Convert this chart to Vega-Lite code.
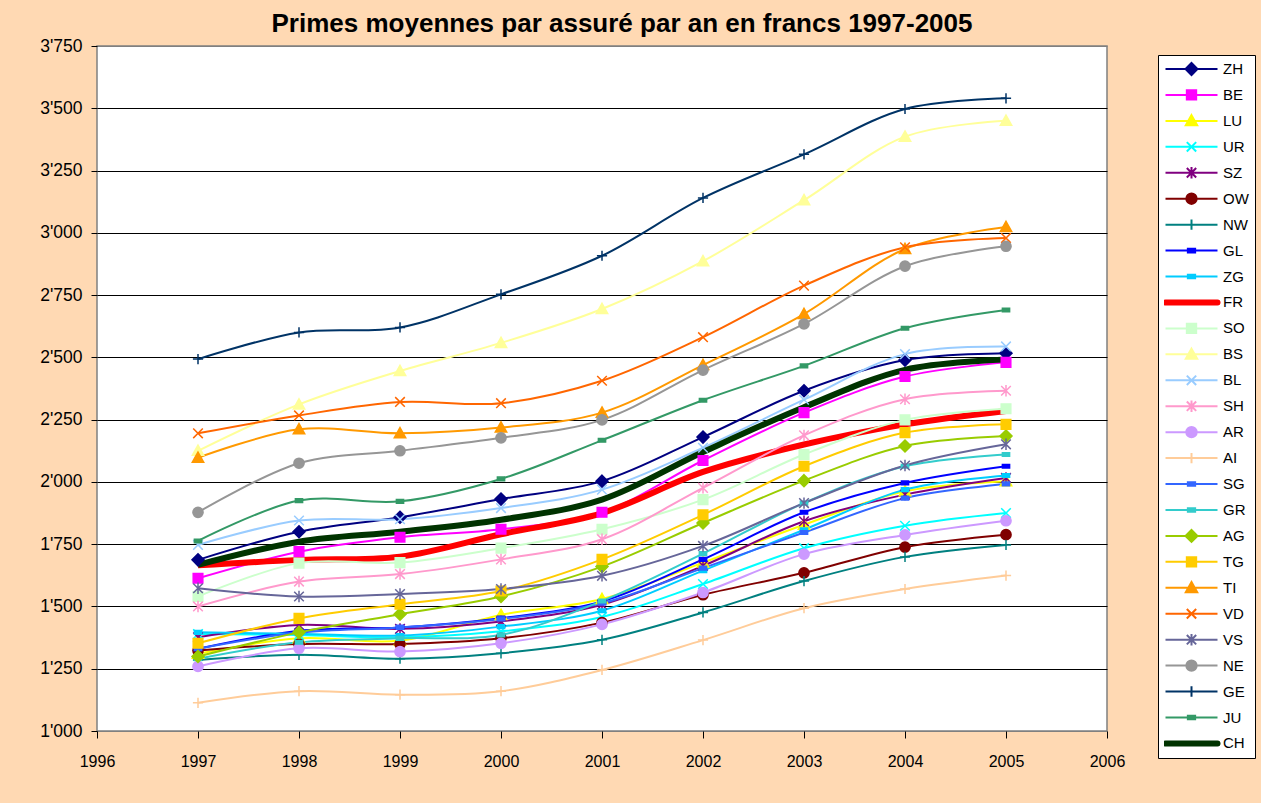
{
  "$schema": "https://vega.github.io/schema/vega-lite/v6.json",
  "autosize": {"type": "none"},
  "width": 1010,
  "height": 685,
  "padding": {"left": 97, "top": 46, "right": 154, "bottom": 72},
  "background": "#FFD9B3",
  "title": {"text": "Primes moyennes par assuré par an en francs 1997-2005", "fontSize": 26, "fontWeight": "bold", "color": "black", "font": "Liberation Sans", "anchor": "middle", "dx": 20, "offset": 0},
  "config": {
    "font": "Liberation Sans",
    "view": {"stroke": "#808080", "strokeWidth": 1.5, "fill": "white"}
  },
  "data": {"values": [
    {"canton":"ZH","year":1997,"prime":1687},{"canton":"ZH","year":1998,"prime":1800},{"canton":"ZH","year":1999,"prime":1858},{"canton":"ZH","year":2000,"prime":1931},{"canton":"ZH","year":2001,"prime":2003},{"canton":"ZH","year":2002,"prime":2180},{"canton":"ZH","year":2003,"prime":2366},{"canton":"ZH","year":2004,"prime":2489},{"canton":"ZH","year":2005,"prime":2517},
    {"canton":"BE","year":1997,"prime":1613},{"canton":"BE","year":1998,"prime":1720},{"canton":"BE","year":1999,"prime":1778},{"canton":"BE","year":2000,"prime":1810},{"canton":"BE","year":2001,"prime":1878},{"canton":"BE","year":2002,"prime":2086},{"canton":"BE","year":2003,"prime":2278},{"canton":"BE","year":2004,"prime":2423},{"canton":"BE","year":2005,"prime":2480},
    {"canton":"LU","year":1997,"prime":1310},{"canton":"LU","year":1998,"prime":1372},{"canton":"LU","year":1999,"prime":1363},{"canton":"LU","year":2000,"prime":1466},{"canton":"LU","year":2001,"prime":1530},{"canton":"LU","year":2002,"prime":1676},{"canton":"LU","year":2003,"prime":1828},{"canton":"LU","year":2004,"prime":1962},{"canton":"LU","year":2005,"prime":2003},
    {"canton":"UR","year":1997,"prime":1389},{"canton":"UR","year":1998,"prime":1385},{"canton":"UR","year":1999,"prime":1376},{"canton":"UR","year":2000,"prime":1400},{"canton":"UR","year":2001,"prime":1458},{"canton":"UR","year":2002,"prime":1590},{"canton":"UR","year":2003,"prime":1734},{"canton":"UR","year":2004,"prime":1824},{"canton":"UR","year":2005,"prime":1875},
    {"canton":"SZ","year":1997,"prime":1376},{"canton":"SZ","year":1998,"prime":1426},{"canton":"SZ","year":1999,"prime":1410},{"canton":"SZ","year":2000,"prime":1440},{"canton":"SZ","year":2001,"prime":1507},{"canton":"SZ","year":2002,"prime":1663},{"canton":"SZ","year":2003,"prime":1842},{"canton":"SZ","year":2004,"prime":1949},{"canton":"SZ","year":2005,"prime":2016},
    {"canton":"OW","year":1997,"prime":1323},{"canton":"OW","year":1998,"prime":1349},{"canton":"OW","year":1999,"prime":1349},{"canton":"OW","year":2000,"prime":1372},{"canton":"OW","year":2001,"prime":1435},{"canton":"OW","year":2002,"prime":1547},{"canton":"OW","year":2003,"prime":1635},{"canton":"OW","year":2004,"prime":1738},{"canton":"OW","year":2005,"prime":1788},
    {"canton":"NW","year":1997,"prime":1285},{"canton":"NW","year":1998,"prime":1306},{"canton":"NW","year":1999,"prime":1290},{"canton":"NW","year":2000,"prime":1312},{"canton":"NW","year":2001,"prime":1366},{"canton":"NW","year":2002,"prime":1476},{"canton":"NW","year":2003,"prime":1602},{"canton":"NW","year":2004,"prime":1699},{"canton":"NW","year":2005,"prime":1747},
    {"canton":"GL","year":1997,"prime":1330},{"canton":"GL","year":1998,"prime":1402},{"canton":"GL","year":1999,"prime":1416},{"canton":"GL","year":2000,"prime":1453},{"canton":"GL","year":2001,"prime":1520},{"canton":"GL","year":2002,"prime":1689},{"canton":"GL","year":2003,"prime":1878},{"canton":"GL","year":2004,"prime":1996},{"canton":"GL","year":2005,"prime":2063},
    {"canton":"ZG","year":1997,"prime":1396},{"canton":"ZG","year":1998,"prime":1390},{"canton":"ZG","year":1999,"prime":1383},{"canton":"ZG","year":2000,"prime":1419},{"canton":"ZG","year":2001,"prime":1483},{"canton":"ZG","year":2002,"prime":1644},{"canton":"ZG","year":2003,"prime":1808},{"canton":"ZG","year":2004,"prime":1969},{"canton":"ZG","year":2005,"prime":2026},
    {"canton":"FR","year":1997,"prime":1665},{"canton":"FR","year":1998,"prime":1687},{"canton":"FR","year":1999,"prime":1700},{"canton":"FR","year":2000,"prime":1790},{"canton":"FR","year":2001,"prime":1875},{"canton":"FR","year":2002,"prime":2040},{"canton":"FR","year":2003,"prime":2150},{"canton":"FR","year":2004,"prime":2231},{"canton":"FR","year":2005,"prime":2285},
    {"canton":"SO","year":1997,"prime":1540},{"canton":"SO","year":1998,"prime":1674},{"canton":"SO","year":1999,"prime":1676},{"canton":"SO","year":2000,"prime":1734},{"canton":"SO","year":2001,"prime":1810},{"canton":"SO","year":2002,"prime":1929},{"canton":"SO","year":2003,"prime":2110},{"canton":"SO","year":2004,"prime":2249},{"canton":"SO","year":2005,"prime":2294},
    {"canton":"BS","year":1997,"prime":2125},{"canton":"BS","year":1998,"prime":2311},{"canton":"BS","year":1999,"prime":2445},{"canton":"BS","year":2000,"prime":2558},{"canton":"BS","year":2001,"prime":2694},{"canton":"BS","year":2002,"prime":2886},{"canton":"BS","year":2003,"prime":3131},{"canton":"BS","year":2004,"prime":3386},{"canton":"BS","year":2005,"prime":3450},
    {"canton":"BL","year":1997,"prime":1747},{"canton":"BL","year":1998,"prime":1845},{"canton":"BL","year":1999,"prime":1850},{"canton":"BL","year":2000,"prime":1895},{"canton":"BL","year":2001,"prime":1969},{"canton":"BL","year":2002,"prime":2137},{"canton":"BL","year":2003,"prime":2330},{"canton":"BL","year":2004,"prime":2513},{"canton":"BL","year":2005,"prime":2544},
    {"canton":"SH","year":1997,"prime":1500},{"canton":"SH","year":1998,"prime":1600},{"canton":"SH","year":1999,"prime":1630},{"canton":"SH","year":2000,"prime":1689},{"canton":"SH","year":2001,"prime":1770},{"canton":"SH","year":2002,"prime":1976},{"canton":"SH","year":2003,"prime":2187},{"canton":"SH","year":2004,"prime":2332},{"canton":"SH","year":2005,"prime":2366},
    {"canton":"AR","year":1997,"prime":1259},{"canton":"AR","year":1998,"prime":1332},{"canton":"AR","year":1999,"prime":1319},{"canton":"AR","year":2000,"prime":1352},{"canton":"AR","year":2001,"prime":1428},{"canton":"AR","year":2002,"prime":1556},{"canton":"AR","year":2003,"prime":1710},{"canton":"AR","year":2004,"prime":1787},{"canton":"AR","year":2005,"prime":1844},
    {"canton":"AI","year":1997,"prime":1113},{"canton":"AI","year":1998,"prime":1160},{"canton":"AI","year":1999,"prime":1146},{"canton":"AI","year":2000,"prime":1160},{"canton":"AI","year":2001,"prime":1245},{"canton":"AI","year":2002,"prime":1365},{"canton":"AI","year":2003,"prime":1493},{"canton":"AI","year":2004,"prime":1570},{"canton":"AI","year":2005,"prime":1624},
    {"canton":"SG","year":1997,"prime":1330},{"canton":"SG","year":1998,"prime":1395},{"canton":"SG","year":1999,"prime":1416},{"canton":"SG","year":2000,"prime":1450},{"canton":"SG","year":2001,"prime":1513},{"canton":"SG","year":2002,"prime":1654},{"canton":"SG","year":2003,"prime":1797},{"canton":"SG","year":2004,"prime":1935},{"canton":"SG","year":2005,"prime":1992},
    {"canton":"GR","year":1997,"prime":1290},{"canton":"GR","year":1998,"prime":1356},{"canton":"GR","year":1999,"prime":1372},{"canton":"GR","year":2000,"prime":1386},{"canton":"GR","year":2001,"prime":1522},{"canton":"GR","year":2002,"prime":1712},{"canton":"GR","year":2003,"prime":1915},{"canton":"GR","year":2004,"prime":2063},{"canton":"GR","year":2005,"prime":2110},
    {"canton":"AG","year":1997,"prime":1299},{"canton":"AG","year":1998,"prime":1396},{"canton":"AG","year":1999,"prime":1469},{"canton":"AG","year":2000,"prime":1540},{"canton":"AG","year":2001,"prime":1660},{"canton":"AG","year":2002,"prime":1835},{"canton":"AG","year":2003,"prime":2005},{"canton":"AG","year":2004,"prime":2144},{"canton":"AG","year":2005,"prime":2184},
    {"canton":"TG","year":1997,"prime":1352},{"canton":"TG","year":1998,"prime":1452},{"canton":"TG","year":1999,"prime":1509},{"canton":"TG","year":2000,"prime":1562},{"canton":"TG","year":2001,"prime":1689},{"canton":"TG","year":2002,"prime":1868},{"canton":"TG","year":2003,"prime":2063},{"canton":"TG","year":2004,"prime":2198},{"canton":"TG","year":2005,"prime":2231},
    {"canton":"TI","year":1997,"prime":2097},{"canton":"TI","year":1998,"prime":2211},{"canton":"TI","year":1999,"prime":2195},{"canton":"TI","year":2000,"prime":2218},{"canton":"TI","year":2001,"prime":2278},{"canton":"TI","year":2002,"prime":2469},{"canton":"TI","year":2003,"prime":2674},{"canton":"TI","year":2004,"prime":2935},{"canton":"TI","year":2005,"prime":3023},
    {"canton":"VD","year":1997,"prime":2195},{"canton":"VD","year":1998,"prime":2267},{"canton":"VD","year":1999,"prime":2321},{"canton":"VD","year":2000,"prime":2316},{"canton":"VD","year":2001,"prime":2406},{"canton":"VD","year":2002,"prime":2581},{"canton":"VD","year":2003,"prime":2788},{"canton":"VD","year":2004,"prime":2942},{"canton":"VD","year":2005,"prime":2979},
    {"canton":"VS","year":1997,"prime":1573},{"canton":"VS","year":1998,"prime":1540},{"canton":"VS","year":1999,"prime":1550},{"canton":"VS","year":2000,"prime":1570},{"canton":"VS","year":2001,"prime":1623},{"canton":"VS","year":2002,"prime":1743},{"canton":"VS","year":2003,"prime":1915},{"canton":"VS","year":2004,"prime":2066},{"canton":"VS","year":2005,"prime":2151},
    {"canton":"NE","year":1997,"prime":1878},{"canton":"NE","year":1998,"prime":2075},{"canton":"NE","year":1999,"prime":2125},{"canton":"NE","year":2000,"prime":2177},{"canton":"NE","year":2001,"prime":2249},{"canton":"NE","year":2002,"prime":2449},{"canton":"NE","year":2003,"prime":2634},{"canton":"NE","year":2004,"prime":2866},{"canton":"NE","year":2005,"prime":2946},
    {"canton":"GE","year":1997,"prime":2493},{"canton":"GE","year":1998,"prime":2600},{"canton":"GE","year":1999,"prime":2620},{"canton":"GE","year":2000,"prime":2753},{"canton":"GE","year":2001,"prime":2908},{"canton":"GE","year":2002,"prime":3140},{"canton":"GE","year":2003,"prime":3315},{"canton":"GE","year":2004,"prime":3497},{"canton":"GE","year":2005,"prime":3540},
    {"canton":"JU","year":1997,"prime":1763},{"canton":"JU","year":1998,"prime":1925},{"canton":"JU","year":1999,"prime":1922},{"canton":"JU","year":2000,"prime":2012},{"canton":"JU","year":2001,"prime":2167},{"canton":"JU","year":2002,"prime":2328},{"canton":"JU","year":2003,"prime":2466},{"canton":"JU","year":2004,"prime":2617},{"canton":"JU","year":2005,"prime":2690},
    {"canton":"CH","year":1997,"prime":1667},{"canton":"CH","year":1998,"prime":1760},{"canton":"CH","year":1999,"prime":1800},{"canton":"CH","year":2000,"prime":1848},{"canton":"CH","year":2001,"prime":1929},{"canton":"CH","year":2002,"prime":2120},{"canton":"CH","year":2003,"prime":2300},{"canton":"CH","year":2004,"prime":2450},{"canton":"CH","year":2005,"prime":2491}
  ]},
  "encoding": {
    "x": {"field": "year", "type": "quantitative", "scale": {"domain": [1996, 2006], "nice": false, "zero": false},
      "axis": {"title": null, "values": [1996,1997,1998,1999,2000,2001,2002,2003,2004,2005,2006], "format": "d", "grid": false, "domain": false, "labelFontSize": 16, "labelColor": "black", "tickColor": "black", "tickSize": 7, "labelPadding": 15, "labelFlush": false}},
    "y": {"field": "prime", "type": "quantitative", "scale": {"domain": [1000, 3750], "nice": false, "zero": false},
      "axis": {"title": null, "values": [1000,1250,1500,1750,2000,2250,2500,2750,3000,3250,3500,3750], "labelExpr": "replace(format(datum.value, ','), ',', \"'\")", "grid": true, "gridColor": {"condition": {"test": "datum.value === 3750 || datum.value === 1000", "value": "#808080"}, "value": "black"}, "gridWidth": 1, "gridOpacity": 1, "domain": false, "labelFontSize": 17.5, "labelColor": "black", "tickColor": "black", "tickSize": 6, "labelPadding": 9}}
  },
  "layer": [
    {
      "mark": {"type": "line", "interpolate": "catmull-rom"},
      "encoding": {
        "color": {"field": "canton", "type": "nominal", "sort": null,
          "scale": {"domain": ["ZH","BE","LU","UR","SZ","OW","NW","GL","ZG","FR","SO","BS","BL","SH","AR","AI","SG","GR","AG","TG","TI","VD","VS","NE","GE","JU","CH"],
                    "range": ["#000080","#FF00FF","#FFFF00","#00FFFF","#800080","#800000","#008080","#0000FF","#00CCFF","#FF0000","#CCFFCC","#FFFF99","#99CCFF","#FF99CC","#CC99FF","#FFCC99","#3366FF","#33CCCC","#99CC00","#FFCC00","#FF9900","#FF6600","#666699","#969696","#003366","#339966","#003300"]},
          "legend": {
            "orient": "none", "legendX": 1061, "legendY": 9, "title": null,
            "fillColor": "white", "strokeColor": "black", "padding": 6,
            "labelFontSize": 15, "labelFont": "Liberation Sans", "labelColor": "black", "labelOffset": 24,
            "symbolSize": 2704, "symbolOffset": 20, "clipHeight": 16, "rowPadding": 9.94, "symbolStrokeWidth": 2,
            "encode": {"symbols": {"update": {
              "shape": {"signal": "['M-1,0H1M0,-0.23L0.23,0L0,0.23L-0.23,0Z','M-1,0H1M-0.18,-0.18H0.18V0.18H-0.18Z','M-1,0H1M0,-0.22L0.22,0.17H-0.22Z','M-1,0H1M-0.18,-0.18L0.18,0.18M-0.18,0.18L0.18,-0.18','M-1,0H1M-0.18,-0.18L0.18,0.18M-0.18,0.18L0.18,-0.18M0,-0.22V0.22','M-1,0H1M-0.2,0A0.2,0.2,0,1,1,0.2,0A0.2,0.2,0,1,1,-0.2,0Z','M-1,0H1M0,-0.2V0.2','M-1,0H1M-0.14,-0.07H0.14V0.07H-0.14Z','M-1,0H1M-0.14,-0.07H0.14V0.07H-0.14Z','M-1,0H1','M-1,0H1M-0.18,-0.18H0.18V0.18H-0.18Z','M-1,0H1M0,-0.22L0.22,0.17H-0.22Z','M-1,0H1M-0.18,-0.18L0.18,0.18M-0.18,0.18L0.18,-0.18','M-1,0H1M-0.18,-0.18L0.18,0.18M-0.18,0.18L0.18,-0.18M0,-0.22V0.22','M-1,0H1M-0.2,0A0.2,0.2,0,1,1,0.2,0A0.2,0.2,0,1,1,-0.2,0Z','M-1,0H1M0,-0.2V0.2','M-1,0H1M-0.14,-0.07H0.14V0.07H-0.14Z','M-1,0H1M-0.14,-0.07H0.14V0.07H-0.14Z','M-1,0H1M0,-0.23L0.23,0L0,0.23L-0.23,0Z','M-1,0H1M-0.18,-0.18H0.18V0.18H-0.18Z','M-1,0H1M0,-0.22L0.22,0.17H-0.22Z','M-1,0H1M-0.18,-0.18L0.18,0.18M-0.18,0.18L0.18,-0.18','M-1,0H1M-0.18,-0.18L0.18,0.18M-0.18,0.18L0.18,-0.18M0,-0.22V0.22','M-1,0H1M-0.2,0A0.2,0.2,0,1,1,0.2,0A0.2,0.2,0,1,1,-0.2,0Z','M-1,0H1M0,-0.2V0.2','M-1,0H1M-0.14,-0.07H0.14V0.07H-0.14Z','M-1,0H1'][indexof(['ZH','BE','LU','UR','SZ','OW','NW','GL','ZG','FR','SO','BS','BL','SH','AR','AI','SG','GR','AG','TG','TI','VD','VS','NE','GE','JU','CH'], datum.value)]"},
              "fill": {"scale": "color", "field": "value"},
              "stroke": {"scale": "color", "field": "value"},
              "strokeWidth": {"signal": "datum.value === 'FR' || datum.value === 'CH' ? 6 : 2"},
              "strokeCap": {"signal": "datum.value === 'FR' || datum.value === 'CH' ? 'round' : 'butt'"}
            }}}
          }},
        "strokeWidth": {"condition": {"test": "datum.canton === 'FR' || datum.canton === 'CH'", "value": 6}, "value": 2}
      }
    },
    {
      "transform": [{"filter": "datum.canton !== 'FR' && datum.canton !== 'CH'"}],
      "mark": {"type": "point", "filled": true, "size": 144, "strokeWidth": 1.5, "opacity": 1},
      "encoding": {
        "shape": {"field": "canton", "type": "nominal", "legend": null,
          "scale": {"domain": ["ZH","BE","LU","UR","SZ","OW","NW","GL","ZG","SO","BS","BL","SH","AR","AI","SG","GR","AG","TG","TI","VD","VS","NE","GE","JU"],
                    "range": ["M0,-1L1,0L0,1L-1,0Z","M-0.8,-0.8H0.8V0.8H-0.8Z","M0,-0.95L0.95,0.75H-0.95Z","M-0.8,-0.8L0.8,0.8M-0.8,0.8L0.8,-0.8","M-0.8,-0.8L0.8,0.8M-0.8,0.8L0.8,-0.8M0,-0.95V0.95","M-0.85,0A0.85,0.85,0,1,1,0.85,0A0.85,0.85,0,1,1,-0.85,0Z","M-0.85,0H0.85M0,-0.85V0.85","M-0.6,-0.3H0.6V0.3H-0.6Z","M-0.6,-0.3H0.6V0.3H-0.6Z","M-0.8,-0.8H0.8V0.8H-0.8Z","M0,-0.95L0.95,0.75H-0.95Z","M-0.8,-0.8L0.8,0.8M-0.8,0.8L0.8,-0.8","M-0.8,-0.8L0.8,0.8M-0.8,0.8L0.8,-0.8M0,-0.95V0.95","M-0.85,0A0.85,0.85,0,1,1,0.85,0A0.85,0.85,0,1,1,-0.85,0Z","M-0.85,0H0.85M0,-0.85V0.85","M-0.6,-0.3H0.6V0.3H-0.6Z","M-0.6,-0.3H0.6V0.3H-0.6Z","M0,-1L1,0L0,1L-1,0Z","M-0.8,-0.8H0.8V0.8H-0.8Z","M0,-0.95L0.95,0.75H-0.95Z","M-0.8,-0.8L0.8,0.8M-0.8,0.8L0.8,-0.8","M-0.8,-0.8L0.8,0.8M-0.8,0.8L0.8,-0.8M0,-0.95V0.95","M-0.85,0A0.85,0.85,0,1,1,0.85,0A0.85,0.85,0,1,1,-0.85,0Z","M-0.85,0H0.85M0,-0.85V0.85","M-0.6,-0.3H0.6V0.3H-0.6Z"]}},
        "fill": {"field": "canton", "type": "nominal", "legend": null,
          "scale": {"domain": ["ZH","BE","LU","UR","SZ","OW","NW","GL","ZG","SO","BS","BL","SH","AR","AI","SG","GR","AG","TG","TI","VD","VS","NE","GE","JU"],
                    "range": ["#000080","#FF00FF","#FFFF00","#00FFFF","#800080","#800000","#008080","#0000FF","#00CCFF","#CCFFCC","#FFFF99","#99CCFF","#FF99CC","#CC99FF","#FFCC99","#3366FF","#33CCCC","#99CC00","#FFCC00","#FF9900","#FF6600","#666699","#969696","#003366","#339966"]}},
        "stroke": {"field": "canton", "type": "nominal", "legend": null,
          "scale": {"domain": ["ZH","BE","LU","UR","SZ","OW","NW","GL","ZG","SO","BS","BL","SH","AR","AI","SG","GR","AG","TG","TI","VD","VS","NE","GE","JU"],
                    "range": ["#000080","#FF00FF","#FFFF00","#00FFFF","#800080","#800000","#008080","#0000FF","#00CCFF","#CCFFCC","#FFFF99","#99CCFF","#FF99CC","#CC99FF","#FFCC99","#3366FF","#33CCCC","#99CC00","#FFCC00","#FF9900","#FF6600","#666699","#969696","#003366","#339966"]}}
      }
    }
  ]
}
